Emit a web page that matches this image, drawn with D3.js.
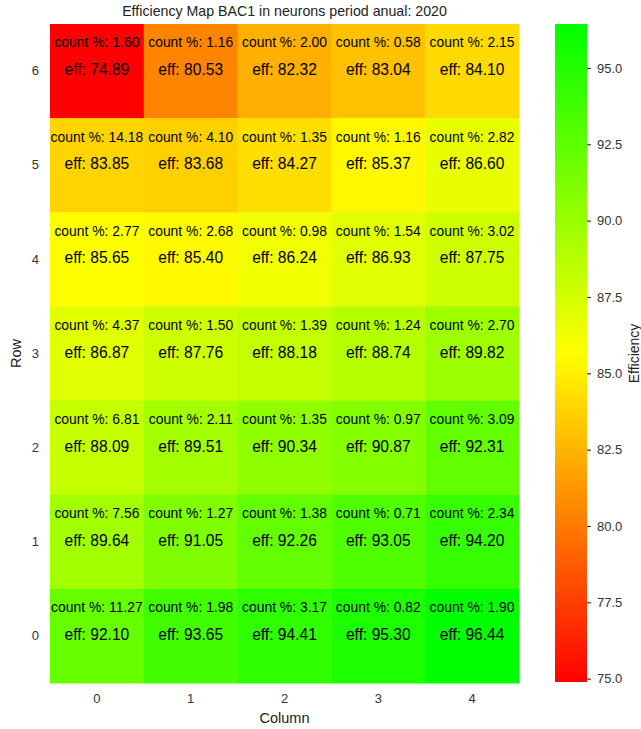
<!DOCTYPE html>
<html><head><meta charset="utf-8">
<script src="https://cdn.jsdelivr.net/npm/d3@7"></script>
<style>body{margin:0;background:#fff}svg text{font-family:"Liberation Sans",Arial,sans-serif}</style>
</head><body>
<svg id="c" width="641" height="729"></svg>
<script>
const columns = [0,1,2,3,4];
const rows = [6,5,4,3,2,1,0];
const countPct = [
  [1.60, 1.16, 2.00, 0.58, 2.15],
  [14.18, 4.10, 1.35, 1.16, 2.82],
  [2.77, 2.68, 0.98, 1.54, 3.02],
  [4.37, 1.50, 1.39, 1.24, 2.70],
  [6.81, 2.11, 1.35, 0.97, 3.09],
  [7.56, 1.27, 1.38, 0.71, 2.34],
  [11.27, 1.98, 3.17, 0.82, 1.90]
];
const eff = [
  [74.89, 80.53, 82.32, 83.04, 84.10],
  [83.85, 83.68, 84.27, 85.37, 86.60],
  [85.65, 85.40, 86.24, 86.93, 87.75],
  [86.87, 87.76, 88.18, 88.74, 89.82],
  [88.09, 89.51, 90.34, 90.87, 92.31],
  [89.64, 91.05, 92.26, 93.05, 94.20],
  [92.10, 93.65, 94.41, 95.30, 96.44]
];
const cbTicks = [75.0, 77.5, 80.0, 82.5, 85.0, 87.5, 90.0, 92.5, 95.0];

const svg = d3.select("#c");
const L = 50, R = 519, T = 24, B = 683;
const x = d3.scaleBand().domain(columns).range([L, R]);
const y = d3.scaleBand().domain(rows).range([T, B]);
const all = eff.flat();
const vmin = d3.min(all), vmax = d3.max(all);
const color = d3.scaleLinear().domain([vmin, (vmin+vmax)/2, vmax]).range(["#ff0000","#ffff00","#00ff00"]);

const cells = [];
rows.forEach((r,i)=>columns.forEach((c,j)=>cells.push({r,c,e:eff[i][j],n:countPct[i][j]})));

svg.append("g").selectAll("rect").data(cells).join("rect")
  .attr("x", d=>x(d.c)).attr("y", d=>y(d.r))
  .attr("width", x.bandwidth()+0.5).attr("height", y.bandwidth()+0.5)
  .attr("fill", d=>color(d.e));

const tg = svg.append("g");
tg.selectAll("text.cnt").data(cells).join("text").attr("class","cnt")
  .attr("x", d=>x(d.c)+x.bandwidth()/2).attr("y", d=>y(d.r)+y.bandwidth()*0.195)
  .attr("text-anchor","middle").attr("dominant-baseline","central")
  .attr("font-size", 13.9).attr("fill","#000")
  .text(d=>"count %: "+d.n.toFixed(2));
tg.selectAll("text.eff").data(cells).join("text").attr("class","eff")
  .attr("x", d=>x(d.c)+x.bandwidth()/2).attr("y", d=>y(d.r)+y.bandwidth()*0.485)
  .attr("text-anchor","middle").attr("dominant-baseline","central")
  .attr("font-size", 15.6).attr("fill","#000")
  .text(d=>"eff: "+d.e.toFixed(2));

// axes
const xa = svg.append("g").attr("transform",`translate(0,${B})`).call(d3.axisBottom(x).tickSize(0).tickPadding(11));
const ya = svg.append("g").attr("transform",`translate(${L},0)`).call(d3.axisLeft(y).tickSize(0).tickPadding(11));
[xa,ya].forEach(a=>{a.select(".domain").remove();a.selectAll("text").attr("font-size",13).attr("fill","#333").attr("font-family","Liberation Sans, Arial, sans-serif");});

svg.append("text").attr("x",(L+R)/2).attr("y",718).attr("text-anchor","middle").attr("dominant-baseline","central")
  .attr("font-size",14.5).attr("fill","#222").text("Column");
svg.append("text").attr("transform",`translate(16,${(T+B)/2}) rotate(-90)`).attr("text-anchor","middle").attr("dominant-baseline","central")
  .attr("font-size",14.5).attr("fill","#222").text("Row");
svg.append("text").attr("x",(L+R)/2).attr("y",11).attr("text-anchor","middle").attr("dominant-baseline","central")
  .attr("font-size",14.2).attr("fill","#222").text("Efficiency Map BAC1 in neurons period anual: 2020");

// colorbar
const cbL = 555, cbW = 32;
const cy = d3.scaleLinear().domain([vmin, vmax]).range([B-1, T]);
const grad = svg.append("defs").append("linearGradient").attr("id","g").attr("x1",0).attr("y1",1).attr("x2",0).attr("y2",0);
d3.range(0,1.0001,0.05).forEach(t=>grad.append("stop").attr("offset",t).attr("stop-color",color(vmin+t*(vmax-vmin))));
svg.append("rect").attr("x",cbL).attr("y",T).attr("width",cbW).attr("height",B-1-T).attr("fill","url(#g)");
const ca = svg.append("g").attr("transform",`translate(${cbL+cbW},0)`).call(d3.axisRight(cy).tickValues(cbTicks).tickFormat(d3.format(".1f")).tickSize(4).tickPadding(6));
ca.select(".domain").remove();
ca.selectAll("line").attr("stroke","#333").attr("stroke-width",1.2);
ca.selectAll("text").attr("font-size",13).attr("fill","#333").attr("font-family","Liberation Sans, Arial, sans-serif");
svg.append("text").attr("transform",`translate(634,${(T+B)/2}) rotate(-90)`).attr("text-anchor","middle").attr("dominant-baseline","central")
  .attr("font-size",14).attr("fill","#222").text("Efficiency");
</script>
</body></html>
